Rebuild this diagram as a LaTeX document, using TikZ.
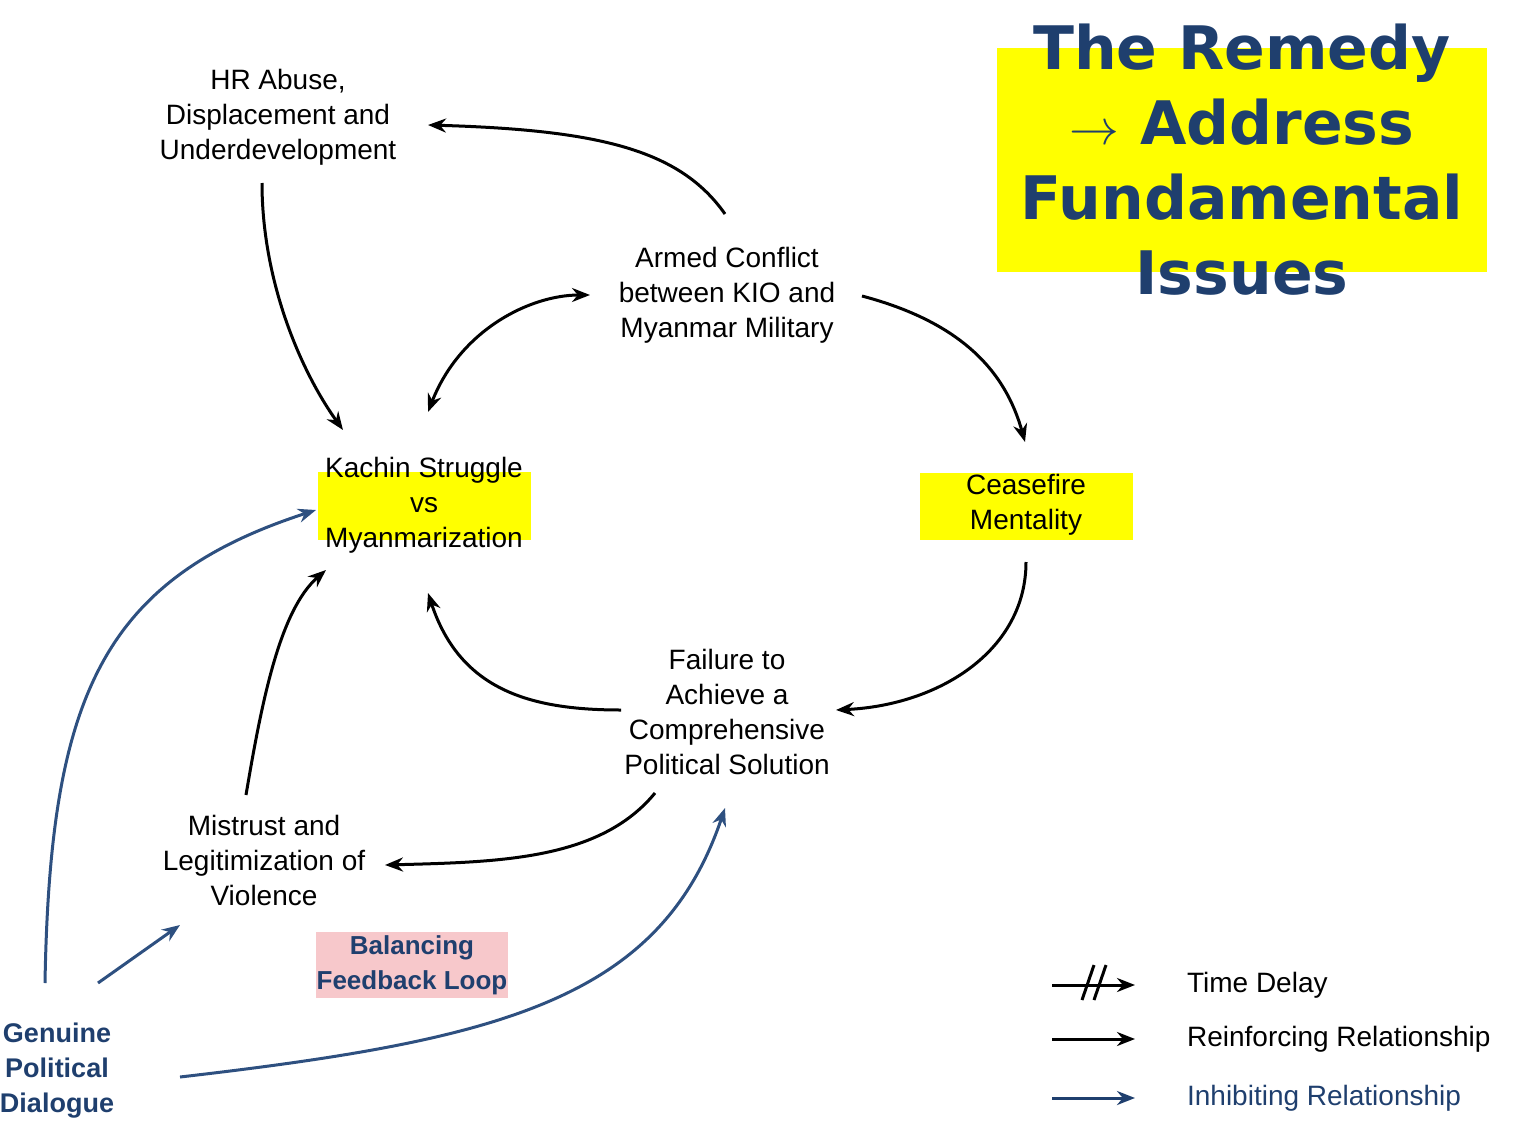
\documentclass[tikz,border=0pt]{standalone}
\usepackage{fontspec}
\setmainfont{Liberation Sans}
\newfontfamily\titlefont{DejaVu Sans}
\usetikzlibrary{arrows.meta}
\definecolor{navy}{HTML}{1F3F6E}
\definecolor{bluearr}{HTML}{2E5080}
\definecolor{pinkbg}{HTML}{F7C8CB}
\definecolor{yel}{HTML}{FFFF00}
\begin{document}
\begin{tikzpicture}[x=0.5pt,y=-0.5pt,
  lbl/.style={align=center,font=\fontsize{14}{17.5}\selectfont},
  arr/.style={line width=1.5pt,-{Stealth[length=9pt,width=7pt]}},
  barr/.style={arr,bluearr},
  yb/.style={fill=yel,draw=none}]
\useasboundingbox (0,0) rectangle (1526,1124);
\fill[yel] (997,48) rectangle (1487,272);
\node[font=\titlefont\bfseries\fontsize{30}{37.5}\selectfont,text=navy,align=center] (title) at (1242,160) {The Remedy\\$\rightarrow$ Address\\Fundamental\\Issues};
\fill[yel] (318,472) rectangle (531,540);
\fill[yel] (920,473) rectangle (1133,540);
\fill[pinkbg] (316,932) rectangle (508,998);
\node[lbl] (hr) at (278,117) {HR Abuse,\\Displacement and\\Underdevelopment};
\node[lbl] (ac) at (727,295) {Armed Conflict\\between KIO and\\Myanmar Military};
\node[lbl] (ks) at (424,505) {Kachin Struggle\\vs\\Myanmarization};
\node[lbl] (cm) at (1026,505) {Ceasefire\\Mentality};
\node[lbl] (fa) at (727,712) {Failure to\\Achieve a\\Comprehensive\\Political Solution};
\node[lbl] (mi) at (264,860) {Mistrust and\\Legitimization of\\Violence};
\node[lbl,font=\bfseries\fontsize{13}{17.5}\selectfont,text=navy] (bf) at (412,965) {Balancing\\Feedback Loop};
\node[lbl,font=\bfseries\fontsize{13.5}{17.5}\selectfont,text=navy] (gp) at (57,1071) {Genuine\\Political\\Dialogue};
\coordinate (a1) at (725,214); \coordinate (a2) at (428,125);
\draw[arr] (a1) .. controls (680,150) and (600,130) .. (a2);
\coordinate (b1) at (262,183); \coordinate (b2) at (343,430);
\draw[arr] (b1) .. controls (262,280) and (300,370) .. (b2);
\coordinate (c1) at (428,412); \coordinate (c2) at (590,295);
\draw[arr,{Stealth[length=9pt,width=7pt]}-{Stealth[length=9pt,width=7pt]}] (c1) .. controls (460,330) and (530,295) .. (c2);
\coordinate (d1) at (862,296); \coordinate (d2) at (1025,442);
\draw[arr] (d1) .. controls (960,322) and (1005,370) .. (d2);
\coordinate (e1) at (1026,562); \coordinate (e2) at (836,710);
\draw[arr] (e1) .. controls (1026,650) and (940,705) .. (e2);
\coordinate (f1) at (621,710); \coordinate (f2) at (428,593);
\draw[arr] (f1) .. controls (530,710) and (460,690) .. (f2);
\coordinate (g1) at (655,793); \coordinate (g2) at (385,865);
\draw[arr] (g1) .. controls (600,860) and (500,862) .. (g2);
\coordinate (h1) at (246,795); \coordinate (h2) at (326,570);
\draw[arr] (h1) .. controls (262,700) and (280,610) .. (h2);
\coordinate (i1) at (45,983); \coordinate (i2) at (316,510);
\draw[barr] (i1) .. controls (50,700) and (100,580) .. (i2);
\coordinate (j1) at (98,983); \coordinate (j2) at (180,925);
\draw[barr] (j1) -- (j2);
\coordinate (k1) at (180,1077); \coordinate (k2) at (725,808);
\draw[barr] (k1) .. controls (500,1040) and (660,1000) .. (k2);
% legend
\coordinate (l1) at (1052,985); \coordinate (l2) at (1135,985);
\draw[arr] (l1) -- (l2);
\draw[line width=1.5pt] (1082,1000) -- (1094,965) (1094,1000) -- (1106,965);
\coordinate (m1) at (1052,1039); \coordinate (m2) at (1135,1039);
\draw[arr] (m1) -- (m2);
\coordinate (n1) at (1052,1098); \coordinate (n2) at (1135,1098);
\draw[arr,navy] (n1) -- (n2);
\node[lbl,anchor=west] (t1) at (1180,985) {Time Delay};
\node[lbl,anchor=west] (t2) at (1180,1039) {Reinforcing Relationship};
\node[lbl,anchor=west,text=navy] (t3) at (1180,1098) {Inhibiting Relationship};
\end{tikzpicture}
\end{document}
